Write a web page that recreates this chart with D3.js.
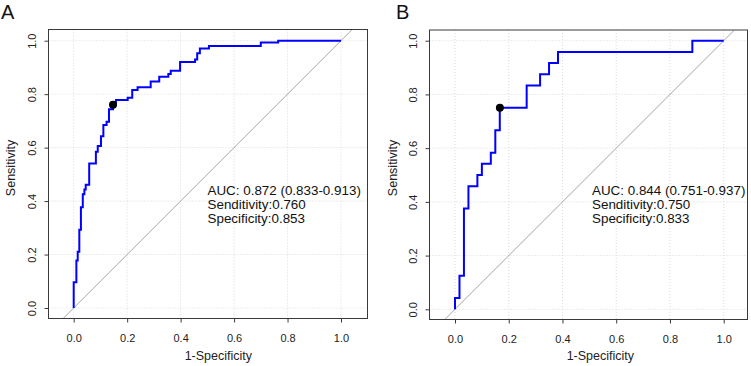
<!DOCTYPE html>
<html>
<head>
<meta charset="utf-8">
<script src="https://cdn.jsdelivr.net/npm/d3@7"></script>
<style>
html,body{margin:0;padding:0;background:#fff;}
svg{display:block;font-family:"Liberation Sans",Arial,sans-serif;}
</style>
</head>
<body>
<svg id="chart" width="751" height="366"></svg>
<script>
// ---- data ----
const tickValues = [0, 0.2, 0.4, 0.6, 0.8, 1.0];
const tickLabels = ["0.0", "0.2", "0.4", "0.6", "0.8", "1.0"];

// Panel A ROC (1-specificity, sensitivity), step vertices
const fprA = [0,0,0.010,0.015,0.021,0.027,0.034,0.040,0.045,0.058,0.083,0.090,0.102,0.111,0.123,0.132,0.147,0.158,0.202,0.219,0.239,0.288,0.320,0.354,0.363,0.398,0.454,0.462,0.472,0.506,0.700,0.765,1.0];
const tprA = [0,0.096,0.178,0.210,0.293,0.377,0.426,0.443,0.461,0.541,0.585,0.606,0.643,0.685,0.697,0.744,0.760,0.778,0.787,0.816,0.826,0.847,0.865,0.875,0.888,0.920,0.930,0.953,0.971,0.980,0.993,1.0,1.0];
const cutA = [0.147, 0.760];
const statsA = ["AUC: 0.872 (0.833-0.913)", "Senditivity:0.760", "Specificity:0.853"];

// Panel B ROC
const fprB = [0,0,0.0167,0.0333,0.05,0.0833,0.1,0.1333,0.15,0.1667,0.2667,0.3167,0.35,0.3833,0.8833,1.0];
const tprB = [0,0.042,0.125,0.375,0.458,0.5,0.542,0.583,0.667,0.75,0.833,0.875,0.917,0.958,1.0,1.0];
const cutB = [0.167, 0.750];
const statsB = ["AUC: 0.844 (0.751-0.937)", "Senditivity:0.750", "Specificity:0.833"];

const panelLetters = ["A", "B"];
const xTitle = "1-Specificity";
const yTitle = "Sensitivity";

// ---- layout ----
const panels = [
  {letter: panelLetters[0], fpr: fprA, tpr: tprA, cut: cutA, stats: statsA,
   box: {l: 48.5, r: 367.5, t: 29.5, b: 318.5}, xr: [73.7, 341], yr: [308, 40.7],
   letterX: 1, statX: 207.5, yTitleX: 14.5},
  {letter: panelLetters[1], fpr: fprB, tpr: tprB, cut: cutB, stats: statsB,
   box: {l: 429.5, r: 747.5, t: 30, b: 319.5}, xr: [455, 723.7], yr: [309.3, 40.7],
   letterX: 396, statX: 592, yTitleX: 397}
];

const svg = d3.select("#chart");

panels.forEach((p, i) => {
  const x = d3.scaleLinear().domain([0, 1]).range(p.xr);
  const y = d3.scaleLinear().domain([0, 1]).range(p.yr);
  const b = p.box;
  const g = svg.append("g");

  const clipId = "clip" + i;
  g.append("clipPath").attr("id", clipId).append("rect")
    .attr("x", b.l).attr("y", b.t).attr("width", b.r - b.l).attr("height", b.b - b.t);

  // grid
  const grid = g.append("g").attr("stroke", "#d9d9d9").attr("stroke-width", 1)
    .attr("stroke-dasharray", "1,2");
  grid.selectAll(".gv").data(tickValues).join("line")
    .attr("x1", d => x(d)).attr("x2", d => x(d)).attr("y1", b.t).attr("y2", b.b);
  grid.selectAll(".gh").data(tickValues).join("line")
    .attr("y1", d => y(d)).attr("y2", d => y(d)).attr("x1", b.l).attr("x2", b.r);

  // diagonal
  const dLo = y.invert(b.b), dHi = y.invert(b.t);
  g.append("line").attr("clip-path", `url(#${clipId})`)
    .attr("x1", x(dLo)).attr("y1", y(dLo)).attr("x2", x(dHi)).attr("y2", y(dHi))
    .attr("stroke", "#a6a6a6").attr("stroke-width", 1);

  // ROC curve
  const pts = p.fpr.map((f, k) => [f, p.tpr[k]]);
  const line = d3.line().x(d => x(d[0])).y(d => y(d[1])).curve(d3.curveStepAfter);
  g.append("path").datum(pts).attr("d", line)
    .attr("fill", "none").attr("stroke", "#0000ff").attr("stroke-width", 2);

  // cut point
  g.append("circle").attr("cx", x(p.cut[0])).attr("cy", y(p.cut[1])).attr("r", 4)
    .attr("fill", "#000");

  // box
  g.append("rect").attr("x", b.l).attr("y", b.t).attr("width", b.r - b.l).attr("height", b.b - b.t)
    .attr("fill", "none").attr("stroke", "#3a3a3a").attr("stroke-width", 1);

  // x axis
  const xa = g.append("g").attr("transform", `translate(0,${b.b})`)
    .call(d3.axisBottom(x).tickValues(tickValues).tickFormat((d, k) => tickLabels[k])
      .tickSize(4).tickPadding(11.5));
  xa.select(".domain").remove();
  xa.selectAll("line").attr("stroke", "#3a3a3a");
  xa.selectAll("text").attr("font-size", 11).attr("fill", "#222")
    .attr("font-family", "Liberation Sans, Arial, sans-serif");

  // y axis
  const ya = g.append("g").attr("transform", `translate(${b.l},0)`)
    .call(d3.axisLeft(y).tickValues(tickValues).tickFormat((d, k) => tickLabels[k]).tickSize(4));
  ya.select(".domain").remove();
  ya.selectAll("line").attr("stroke", "#3a3a3a");
  ya.selectAll("text").attr("x", null).attr("y", null).attr("dy", null)
    .attr("text-anchor", "middle")
    .attr("transform", "translate(-12.5,0) rotate(-90)")
    .attr("font-size", 11).attr("fill", "#222")
    .attr("font-family", "Liberation Sans, Arial, sans-serif");

  // axis titles
  g.append("text").attr("x", x(0.5) + 11).attr("y", 360).attr("text-anchor", "middle")
    .attr("font-size", 12.5).attr("fill", "#222").text(xTitle);
  g.append("text").attr("transform", `translate(${p.yTitleX},168) rotate(-90)`)
    .attr("text-anchor", "middle").attr("font-size", 12.5).attr("fill", "#222").text(yTitle);

  // stats
  g.selectAll(".stat").data(p.stats).join("text")
    .attr("x", p.statX).attr("y", (d, k) => 194.5 + k * 14)
    .attr("font-size", 13.4).attr("fill", "#111").text(d => d);

  // panel letter
  g.append("text").attr("x", p.letterX).attr("y", 18.5).attr("font-size", 20)
    .attr("fill", "#111").text(p.letter);
});
</script>
</body>
</html>
